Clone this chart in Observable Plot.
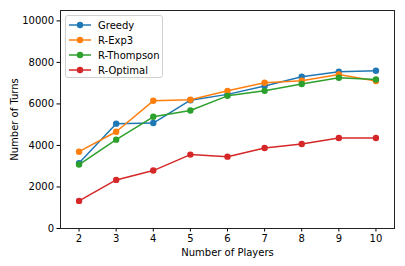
<!DOCTYPE html>
<html>
<head>
<meta charset="utf-8">
<script src="https://cdn.jsdelivr.net/npm/d3@7"></script>
<script src="https://cdn.jsdelivr.net/npm/@observablehq/plot@0.6"></script>
<style>
  html, body { margin: 0; padding: 0; background: #fff; }
  #wrap { position: relative; width: 405px; height: 266px; font-family: "DejaVu Sans", sans-serif; }
  #legend { position: absolute; left: 65px; top: 15px; width: 98px; height: 63px; box-sizing: border-box;
    border: 1px solid #d0d0d0; border-radius: 3px; background: rgba(255,255,255,0.8); font-size: 10px; color: #000; }
  .item { position: absolute; left: 2px; height: 15px; display: flex; align-items: center; }
  .item span { margin-left: 6px; white-space: nowrap; }
</style>
</head>
<body>
<div id="wrap"><div id="chart"></div><div id="legend"></div></div>
<script>
const players = [2, 3, 4, 5, 6, 7, 8, 9, 10];
const seriesNames = ["Greedy", "R-Exp3", "R-Thompson", "R-Optimal"];
const greedy     = [3150, 5050, 5080, 6180, 6460, 6860, 7310, 7550, 7600];
const rExp3      = [3700, 4660, 6150, 6200, 6630, 7020, 7120, 7420, 7100];
const rThompson  = [3080, 4280, 5380, 5680, 6390, 6630, 6960, 7260, 7180];
const rOptimal   = [1330, 2340, 2790, 3560, 3460, 3880, 4070, 4360, 4360];
const colors = ["#1f77b4", "#ff7f0e", "#2ca02c", "#d62728"];
const yTicks = [0, 2000, 4000, 6000, 8000, 10000];

const allValues = [greedy, rExp3, rThompson, rOptimal];
const marks = [];
allValues.forEach((vals, i) => {
  const rows = players.map((p, j) => ({players: p, turns: vals[j], series: seriesNames[i]}));
  marks.push(Plot.line(rows, {x: "players", y: "turns", stroke: colors[i], strokeWidth: 1.5}));
  marks.push(Plot.dot(rows, {x: "players", y: "turns", fill: colors[i], r: 3.2, stroke: "none"}));
});

const chart = Plot.plot({
  width: 405,
  height: 266,
  marginLeft: 60,
  marginTop: 10,
  marginRight: 11,
  marginBottom: 38,
  style: {fontFamily: "DejaVu Sans, sans-serif", fontSize: "10px", color: "#000", background: "#fff"},
  x: {domain: [1.5, 10.5]},
  y: {domain: [0, 10500]},
  marks: [
    Plot.axisX({ticks: players, tickSize: 3.5, tickPadding: 3, tickFormat: d => String(d), fontSize: 10,
      label: "Number of Players", labelAnchor: "center", labelArrow: "none", labelOffset: 27}),
    Plot.axisY({ticks: yTicks, tickSize: 3.5, tickPadding: 3, tickFormat: d => String(d), fontSize: 10,
      label: "Number of Turns", labelAnchor: "center", labelArrow: "none", labelOffset: 50}),
    ...marks,
    Plot.frame({stroke: "#222", strokeWidth: 1})
  ]
});
document.getElementById("chart").appendChild(chart);

const legend = document.getElementById("legend");
seriesNames.forEach((name, i) => {
  const item = document.createElement("div");
  item.className = "item";
  item.style.top = (1.5 + i * 15) + "px";
  item.innerHTML = `<svg width="24" height="10"><line x1="1" y1="5" x2="23" y2="5" stroke="${colors[i]}" stroke-width="1.5"/><circle cx="12" cy="5" r="3.2" fill="${colors[i]}"/></svg><span>${name}</span>`;
  legend.appendChild(item);
});
</script>
</body>
</html>
